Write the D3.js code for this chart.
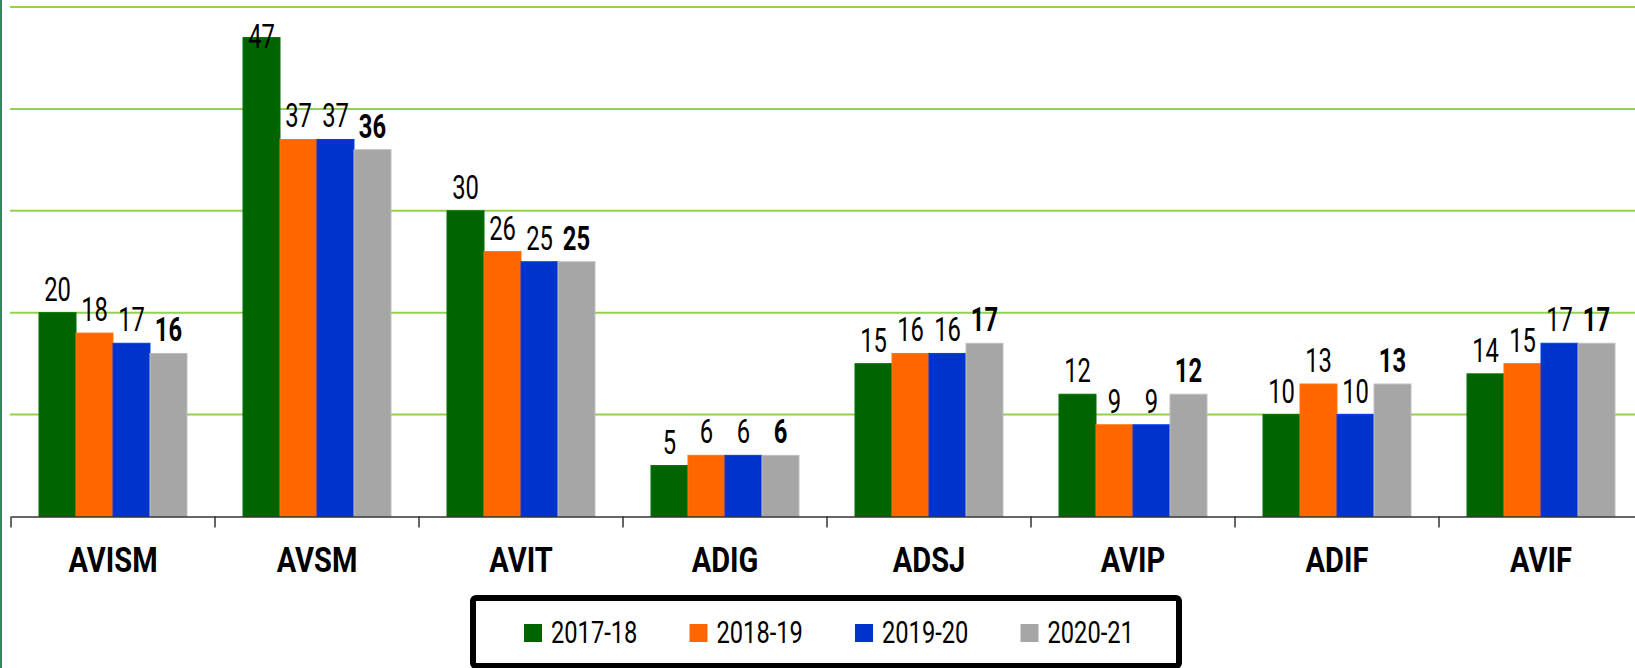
<!DOCTYPE html>
<html>
<head>
<meta charset="utf-8">
<script src="https://cdn.jsdelivr.net/npm/d3@7"></script>
<style>
  body { margin: 0; background: #fff; }
  svg { display: block; font-family: Roboto, "Liberation Sans", sans-serif; }
</style>
</head>
<body>
<svg width="1635" height="668"></svg>
<script>
var categories = ["AVISM", "AVSM", "AVIT", "ADIG", "ADSJ", "AVIP", "ADIF", "AVIF"];
var years = ["2017-18", "2018-19", "2019-20", "2020-21"];
var v2017 = [20, 47, 30, 5, 15, 12, 10, 14];
var v2018 = [18, 37, 26, 6, 16, 9, 13, 15];
var v2019 = [17, 37, 25, 6, 16, 9, 10, 17];
var v2020 = [16, 36, 25, 6, 17, 12, 13, 17];
var gridTicks = [0, 10, 20, 30, 40, 50];
var colors = ["#006400", "#ff6600", "#0033cc", "#a6a6a6"];

var series = [v2017, v2018, v2019, v2020];

var svg = d3.select("svg"),
    width = +svg.attr("width"),
    height = +svg.attr("height");

var x0 = d3.scaleBand().domain(categories).range([11, 1643]).padding(0);
var groupW = 148;
var x1 = d3.scaleBand().domain(years).range([0, groupW]);
var y = d3.scaleLinear().domain([0, 50]).range([516.5, 7]);

// condensed look: squeeze text horizontally
function squeeze(sx) {
  return function(sel) {
    sel.attr("transform", function() {
      var t = d3.select(this);
      return "translate(" + t.attr("data-x") + "," + t.attr("data-y") + ") scale(" + sx + ",1)";
    });
  };
}

// left edge line
svg.append("line")
    .attr("x1", 1).attr("x2", 1).attr("y1", 0).attr("y2", height)
    .attr("stroke", "#2a8a62").attr("stroke-width", 2);

// gridlines
svg.append("g")
    .selectAll("line")
    .data(gridTicks.slice(1))
    .enter().append("line")
    .attr("x1", 10).attr("x2", width)
    .attr("y1", function(d) { return y(d); })
    .attr("y2", function(d) { return y(d); })
    .attr("stroke", "#92d050").attr("stroke-width", 2);

// bars
var groups = svg.append("g")
    .selectAll("g")
    .data(categories)
    .enter().append("g")
    .attr("transform", function(d) { return "translate(" + (x0(d) + (x0.bandwidth() - groupW) / 2) + ",0)"; });

function rows(d, i) {
  return series.map(function(s, j) { return {year: years[j], value: s[i], k: j}; });
}

groups.selectAll("rect")
    .data(rows)
    .enter().append("rect")
    .attr("x", function(d) { return x1(d.year); })
    .attr("y", function(d) { return y(d.value); })
    .attr("width", x1.bandwidth())
    .attr("height", function(d) { return y(0) - y(d.value); })
    .attr("fill", function(d) { return colors[d.k]; })
    .attr("stroke", function(d) { return d3.color(colors[d.k]).brighter(0.4); })
    .attr("stroke-width", 1);

// value labels
groups.selectAll("text")
    .data(rows)
    .enter().append("text")
    .attr("data-x", function(d) { return x1(d.year) + x1.bandwidth() / 2; })
    .attr("data-y", function(d) { return Math.max(y(d.value) - 12, 48); })
    .attr("text-anchor", "middle")
    .attr("font-size", 34)
    .attr("font-weight", function(d) { return d.k === 3 ? "bold" : "normal"; })
    .attr("fill", "#000")
    .text(function(d) { return d.value; })
    .call(squeeze(0.7));

// x axis
var xAxis = svg.append("g")
    .attr("transform", "translate(0," + y(0) + ")")
    .call(d3.axisBottom(x0).tickSize(0).tickFormat(""));
xAxis.select(".domain").attr("stroke", "#333").attr("stroke-width", 1.5);

svg.append("g")
    .selectAll("line")
    .data(categories.concat(["end"]))
    .enter().append("line")
    .attr("x1", function(d, i) { return 11 + i * x0.bandwidth(); })
    .attr("x2", function(d, i) { return 11 + i * x0.bandwidth(); })
    .attr("y1", y(0)).attr("y2", y(0) + 11)
    .attr("stroke", "#333").attr("stroke-width", 1.5);

svg.append("g")
    .selectAll("text")
    .data(categories)
    .enter().append("text")
    .attr("data-x", function(d) { return x0(d) + x0.bandwidth() / 2; })
    .attr("data-y", 572)
    .attr("text-anchor", "middle")
    .attr("font-size", 35)
    .attr("font-weight", "bold")
    .text(function(d) { return d; })
    .call(squeeze(0.83));

// legend
var legend = svg.append("g");
legend.append("rect")
    .attr("x", 473).attr("y", 598).attr("width", 706).attr("height", 68)
    .attr("rx", 3)
    .attr("fill", "#fff").attr("stroke", "#000").attr("stroke-width", 6);

var item = legend.selectAll("g")
    .data(years)
    .enter().append("g")
    .attr("transform", function(d, i) { return "translate(" + (524 + i * 165.5) + ",0)"; });
item.append("rect")
    .attr("x", 0).attr("y", 624).attr("width", 18).attr("height", 18)
    .attr("fill", function(d, i) { return colors[i]; });
item.append("text")
    .attr("data-x", 27).attr("data-y", 643)
    .attr("font-size", 32)
    .text(function(d) { return d; })
    .call(squeeze(0.74));
</script>
</body>
</html>
